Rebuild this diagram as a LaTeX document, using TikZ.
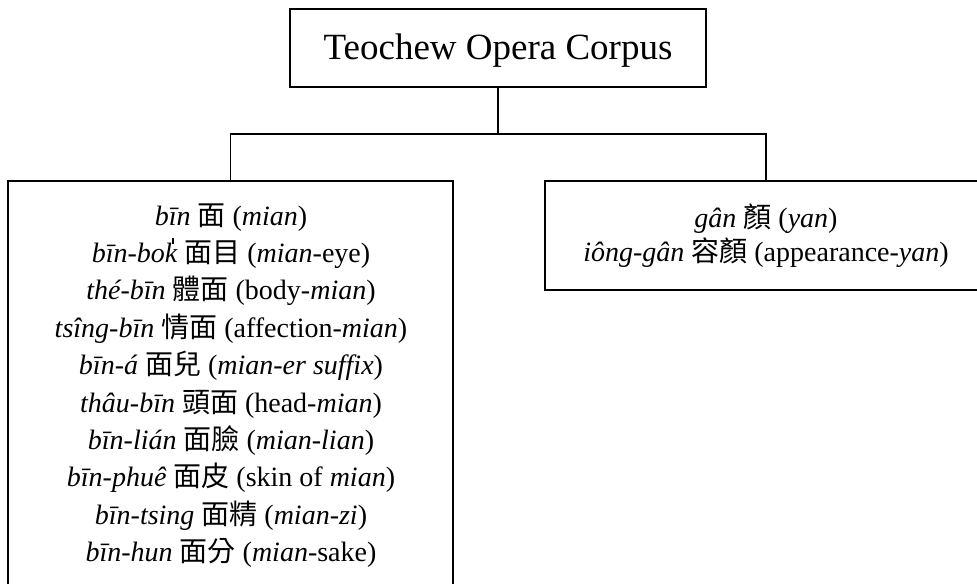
\documentclass[tikz,border=0pt]{standalone}
\usepackage{fontspec}
\setmainfont{Liberation Serif}
\newfontfamily\cjk{Noto Sans CJK TC}
\newcommand{\zh}[1]{{\cjk #1}}
\newcommand{\kmark}{\ooalign{k\cr\hidewidth\kern0.12em\raisebox{0.66em}{\rule{0.055em}{0.22em}}\hidewidth\cr}}
\begin{document}
\begin{tikzpicture}[x=0.75pt,y=-0.75pt,
  box/.style={draw=black, inner sep=0pt, line width=1.1pt},
  txt/.style={anchor=base, inner sep=0pt, font=\fontsize{21}{28}\selectfont},
  ttl/.style={anchor=base, inner sep=0pt, font=\fontsize{27.75}{33}\selectfont},
  conn/.style={draw=black, line width=1.1pt}]
\useasboundingbox (0,0) rectangle (977,583);
\clip (0,0) rectangle (977,583);
\node[box, minimum width=312pt, minimum height=58.5pt] (title) at (498,48) {};
\node[ttl] (titletext) at (498,59) {Teochew Opera Corpus};
\node[box, minimum width=333.75pt, minimum height=308.25pt] (left) at (230.5,386.5) {};
\node[box, minimum width=331.5pt, minimum height=81.75pt] (right) at (766,235.5) {};
\coordinate (junc) at (498,134);
\draw[conn] (title.south) -- (junc);
\draw[conn] (left.north) |- (junc) -| (right.north);
\node[txt] (l1) at (231,225) {\textit{bīn} \zh{面} (\textit{mian})};
\node[txt] (l2) at (231,262.4) {\textit{bīn-bo\kmark} \zh{面目} (\textit{mian}-eye)};
\node[txt] (l3) at (231,299.8) {\textit{thé-bīn} \zh{體面} (body-\textit{mian})};
\node[txt] (l4) at (231,337.2) {\textit{tsîng-bīn} \zh{情面} (affection-\textit{mian})};
\node[txt] (l5) at (231,374.6) {\textit{bīn-á} \zh{面兒} (\textit{mian-er suffix})};
\node[txt] (l6) at (231,412) {\textit{thâu-bīn} \zh{頭面} (head-\textit{mian})};
\node[txt] (l7) at (231,449.4) {\textit{bīn-lián} \zh{面臉} (\textit{mian-lian})};
\node[txt] (l8) at (231,486.8) {\textit{bīn-phuê} \zh{面皮} (skin of \textit{mian})};
\node[txt] (l9) at (231,524.2) {\textit{bīn-tsing} \zh{面精} (\textit{mian-zi})};
\node[txt] (l10) at (231,561.6) {\textit{bīn-hun} \zh{面分} (\textit{mian}-sake)};
\node[txt] (r1) at (766,227) {\textit{gân} \zh{顏} (\textit{yan})};
\node[txt] (r2) at (766,261) {\textit{iông-gân} \zh{容顏} (appearance-\textit{yan})};
\end{tikzpicture}
\end{document}
